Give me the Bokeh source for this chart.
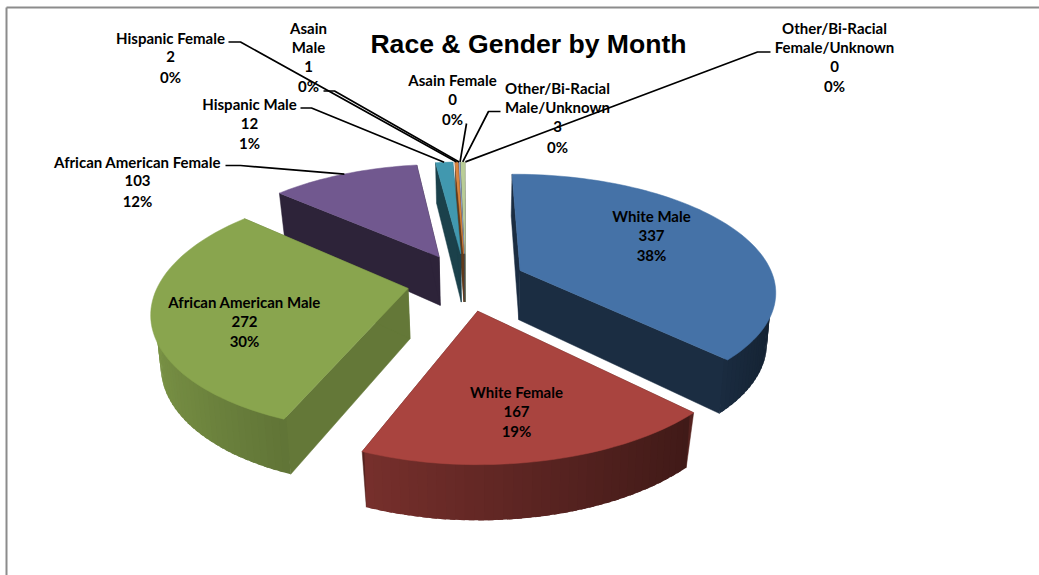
import math
from bokeh.plotting import figure
from bokeh.models import ColumnDataSource, Range1d
from bokeh.core.properties import value
from bokeh.embed import file_html
from bokeh.resources import INLINE

# ---- data
categories = ["White Male", "White Female", "African American Male", "African American Female",
              "Hispanic Male", "Hispanic Female", "Asain Male", "Asain Female",
              "Other/Bi-Racial Male/Unknown", "Other/Bi-Racial Female/Unknown"]
counts = [337, 167, 272, 103, 12, 2, 1, 0, 3, 0]
percents = ["38%", "19%", "30%", "12%", "1%", "0%", "0%", "0%", "0%", "0%"]
colors = ["#4572A7", "#A9443F", "#89A54E", "#71588F", "#4198AF",
          "#DB843D", "#93A9CF", "#D19392", "#B9CD96", "#A99BBD"]
title_text = "Race & Gender by Month"

# ---- label layout: category index -> (wrapped name lines, centre x, line centre ys)
label_layout = {
    0: (["White Male"], 651, [215, 235, 254]),
    1: (["White Female"], 516, [391, 411, 430]),
    2: (["African American Male"], 244, [301, 321, 340]),
    3: (["African American Female"], 137, [161, 180, 200]),
    4: (["Hispanic Male"], 249, [103, 123, 142]),
    5: (["Hispanic Female"], 170, [37, 56, 76]),
    6: (["Asain", "Male"], 308, [27, 46, 66, 85]),
    7: (["Asain Female"], 452, [79, 99, 118]),
    8: (["Other/Bi-Racial", "Male/Unknown"], 557, [87, 106, 126, 146]),
    9: (["Other/Bi-Racial", "Female/Unknown"], 834, [27, 46, 66, 85]),
}
leader_layout = {
    3: [(225, 165), (240, 165)],
    4: [(300, 107.5), (311, 107.5)],
    5: [(228, 41.5), (240, 41.5)],
    6: [(323, 90.5), (334, 90.5)],
    7: [(466, 123)],
    8: [(500, 111), (488, 111)],
    9: [(770, 51.5), (757, 51.5)],
}
cut_shade = [0.40, 0.50, 0.73, 0.40, 0.43, 0.45, 0.45, 0.45, 0.45, 0.45]

W, H = 1039, 575
CX, CY, A, C, D, K, M = 465, 281, 255, 116, 50, 0.17, 0.03
VX = CX + 12
LEFT_SCALE = 0.975
EXPLODE_X, EXPLODE_Y = 0.235, 0.25
ROT = math.radians(-0.5)

def proj(X, Y, z=0.0):
    s = 1 / (1 - K * Y + M * z)
    Xs = X * A * (LEFT_SCALE if X < 0 else 1.0)
    return VX + (CX - VX + Xs) * s, CY + Y * C * s + z * D * (1 + 0.2 * Y)

def shade(hexcol, f):
    r, g, b = (int(hexcol[i:i + 2], 16) for i in (1, 3, 5))
    return "#%02x%02x%02x" % (int(min(255, r * f)), int(min(255, g * f)), int(min(255, b * f)))

total = sum(counts)
faces = {"xs": [], "ys": [], "c": [], "la": []}
def add(poly, col, la=1.0):
    faces["xs"].append([q[0] for q in poly])
    faces["ys"].append([q[1] for q in poly])
    faces["c"].append(col)
    faces["la"].append(la)

slices = []
a0 = ROT
for i, v in enumerate(counts):
    a1 = a0 + v / total * 2 * math.pi
    slices.append((i, a0, a1))
    a0 = a1

anchors = {}
for i, a0, a1 in sorted(slices, key=lambda t: -math.cos((t[1] + t[2]) / 2)):
    mid = (a0 + a1) / 2
    ex, ey = EXPLODE_X * math.sin(mid), -EXPLODE_Y * math.cos(mid)
    P = lambda t, r=1.0, z=0.0: proj(ex + r * math.sin(t), ey - r * math.cos(t), z)
    anchors[i] = P(mid)
    if counts[i] == 0:
        continue
    col = colors[i]
    cut = shade(col, cut_shade[i])
    for t in (a0, a1):
        add([proj(ex, ey), P(t), P(t, z=1), proj(ex, ey, 1)], cut)
    n = max(2, int((a1 - a0) / 0.03))
    dt = (a1 - a0) / n
    ts = [a0 + dt * j for j in range(n + 1)]
    for t0, t1 in zip(ts, ts[1:]):
        tm = (t0 + t1) / 2
        if -math.cos(tm) < 0.02 and abs(math.sin(tm)) < 0.97:
            continue
        f = 0.594 - 0.30 * math.sin(tm)
        t2 = min(a1, t1 + 0.6 * dt)
        add([P(t0, r=0.985), P(t2, r=0.985), P(t2, z=1), P(t0, z=1)], shade(col, f), 0.0)
    add([proj(ex, ey)] + [P(t) for t in ts], col)

p = figure(width=W, height=H, output_backend="svg", toolbar_location=None,
           x_range=Range1d(0, W), y_range=Range1d(H, 0), min_border=0,
           outline_line_color=None, background_fill_color="white",
           border_fill_color="white")
p.axis.visible = False
p.grid.visible = False

p.line([6, 6], [H, 7], line_color="#8c8c8c", line_width=2)
p.line([6, W], [7, 7], line_color="#8c8c8c", line_width=2)

src = ColumnDataSource(faces)
p.patches("xs", "ys", fill_color="c", line_color="c", line_alpha="la", line_width=0.5,
          line_join="round", source=src)

for i, pts in leader_layout.items():
    xs = [q[0] for q in pts] + [anchors[i][0]]
    ys = [q[1] for q in pts] + [anchors[i][1]]
    p.line(xs, ys, line_color="black", line_width=1.7)

tx, ty, tt = [], [], []
for i, (names, cx, yl) in label_layout.items():
    lines = names + [str(counts[i]), percents[i]]
    for s, y in zip(lines, yl):
        tx.append(cx); ty.append(y); tt.append(s)
p.text(tx, ty, text=tt, text_font=value("Lato"), text_font_style="bold", text_font_size="15px",
       text_color="black", text_align="center", text_baseline="middle")
p.text([528], [43], text=[title_text], text_font=value("Liberation Sans"), text_font_style="bold",
       text_font_size="26.6px", text_color="black", text_align="center", text_baseline="middle")

open("out.html", "w").write(file_html(p, INLINE))
